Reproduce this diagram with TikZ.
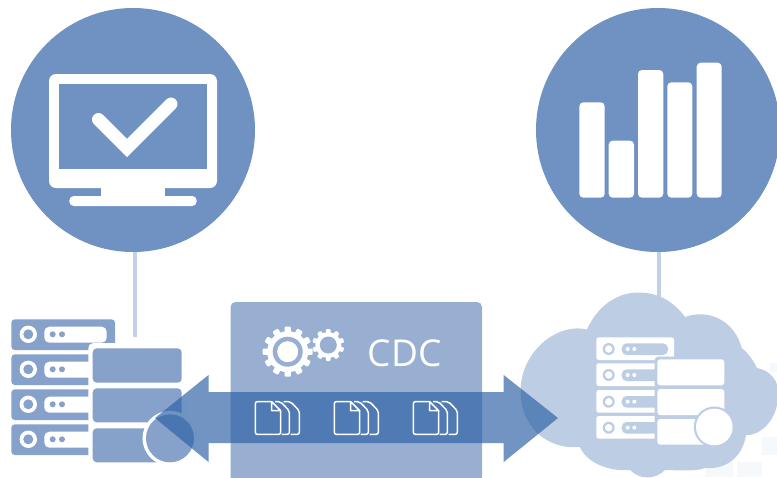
\documentclass[tikz,border=0pt]{standalone}
\usepackage{fontspec}
\setmainfont{Open Sans}
\definecolor{circ}{HTML}{6F92C3}
\definecolor{srv}{HTML}{86A1CA}
\definecolor{boxc}{HTML}{98AFD2}
\definecolor{arr}{RGB}{45,98,165}
\definecolor{cloudc}{HTML}{BDCEE4}
\definecolor{linec}{HTML}{C0D0E6}
\definecolor{pale}{HTML}{F6F9FC}
\tikzset{
  disc/.style={circle,fill=circ,inner sep=0pt,minimum size=244pt},
  conn/.style={draw=linec,line width=3.8pt},
  wbar/.style={fill=white,rounded corners=4pt},
  docline/.style={draw=white,line width=1.5pt,line join=round},
}
\newcommand{\gearshape}[6]{% cx cy teeth root outer halfwidth
  \fill[white] (#1,#2) circle[radius=#4];
  \pgfmathsetmacro{\gstep}{360/#3}
  \foreach \i in {1,...,#3}{
    \pgfmathsetmacro{\gang}{\i*\gstep}
    \fill[white,rotate around={\gang:(#1,#2)},rounded corners=1pt]
      ({#1-#6},#2) rectangle ({#1+#6},{#2-#5});
  }
}
\newcommand{\rowL}[1]{%
  \fill[srv,rounded corners=3.5pt] (11.3,#1) rectangle +(103.7,30.7);
  \fill[white,rounded corners=5pt] (44.3,#1+7.4) rectangle +(62.4,16);
  \fill[white] (28.3,#1+15) circle[radius=8.7];
  \fill[srv] (28.3,#1+15) circle[radius=5];
  \fill[srv] (52.7,#1+15) circle[radius=3];
  \fill[srv] (62,#1+15) circle[radius=3];
}
\newcommand{\rowR}[1]{%
  \fill[white,rounded corners=2.5pt] (596.3,#1) rectangle +(77.7,22.7);
  \fill[cloudc,rounded corners=5pt] (621.7,#1+6) rectangle +(46.3,11.7);
  \fill[cloudc] (608.7,#1+11.7) circle[radius=6];
  \fill[white] (608.7,#1+11.7) circle[radius=3.7];
  \fill[white] (627.7,#1+11.7) circle[radius=2];
  \fill[white] (634.3,#1+11.7) circle[radius=2];
}
\newcommand{\docs}[1]{%
  \begin{scope}[xshift=#1pt]
  \draw[docline,rounded corners=2pt] (271.7,401.7) -- (255.3,401.7) -- (255.3,434.3) -- (280.7,434.3) -- (280.7,410.7);
  \draw[docline] (271.7,401.7) -- (280.7,410.7) -- (271.7,410.7) -- cycle;
  \draw[docline,rounded corners=2pt] (275,401.7) -- (280.5,401.7) -- (289.3,410.7) -- (289.3,434.3) -- (281.5,434.3);
  \draw[docline,rounded corners=2pt] (283.5,401.7) -- (290.5,401.7) -- (299.3,410.7) -- (299.3,434.3) -- (290.5,434.3);
  \end{scope}
}
\begin{document}
\begin{tikzpicture}[x=1pt,y=-1pt]
\useasboundingbox (0,0) rectangle (777,477);
\begin{scope}
\clip (0,0) rectangle (777,477);
% pale background squares
\fill[pale] (705,462) rectangle (733,477);
\fill[pale] (737,462) rectangle (762,477);
\fill[pale] (762,437) rectangle (777,455);
\fill[pale] (770,363) rectangle (777,372);
% discs
\node[disc] (mon) at (133,130) {};
\node[disc] (rep) at (658,130) {};
\coordinate (la) at (135,337);
\coordinate (ra) at (659,300);
\draw[conn] (mon.south -| la) -- (la);
\draw[conn] (rep.south -| ra) -- (ra);
% monitor
\fill[white,rounded corners=7pt] (49,74) rectangle (217,188);
\fill[circ] (59.3,84) rectangle (206.7,169.3);
\fill[white] (101,185) rectangle (165,198);
\fill[white,rounded corners=4.5pt] (69.3,196) rectangle (196.7,206);
\draw[white,line width=13pt,line cap=round,line join=miter] (98.5,119.5) -- (127,148) -- (171,104);
% bars
\fill[wbar] (579.3,102.3) rectangle (604.7,197.7);
\fill[wbar] (608.7,140.7) rectangle (634,197.7);
\fill[wbar] (638,70) rectangle (663.3,197.7);
\fill[wbar] (667.3,82.3) rectangle (692.3,197.7);
\fill[wbar] (696.7,62.7) rectangle (721.7,197.7);
% left servers
\rowL{319.3}\rowL{354.3}\rowL{389.3}\rowL{424.3}
\fill[white,rounded corners=5pt] (88.3,343) rectangle (186,467);
\fill[srv,rounded corners=4pt] (92.7,348.3) rectangle (181.7,382.7);
\fill[srv,rounded corners=4pt] (92.7,388.3) rectangle (181.7,422.3);
\fill[srv,rounded corners=4pt] (92.7,428.3) rectangle (181.7,462.3);
\fill[white] (170,438.3) circle[radius=27.5];
\fill[srv] (170,438.3) circle[radius=24];
% cloud
\fill[cloudc] (520.7,395)
  .. controls (518,355) and (555,322) .. (587,329.5)
  .. controls (598,305) and (618,292) .. (640,292.5)
  .. controls (660,293) and (675,303) .. (685,317)
  .. controls (710,308) and (735,322) .. (741.7,348)
  .. controls (749,354) and (753,360) .. (757,368)
  .. controls (770,370) and (780,382) .. (778,395)
  .. controls (778,420) and (760,436) .. (746,435)
  .. controls (743,455) and (728,470) .. (705,468)
  .. controls (695,472) and (675,470) .. (665,470)
  .. controls (655,480) and (640,480) .. (630,470)
  .. controls (605,472) and (585,460) .. (580,447)
  .. controls (545,450) and (522,425) .. (520.7,395) -- cycle;
\rowR{337.3}\rowR{363.3}\rowR{390}\rowR{416}
\fill[cloudc,rounded corners=4pt] (654.5,356.5) rectangle (727,447);
\fill[white,rounded corners=3pt] (657.3,359.3) rectangle (724.3,385.3);
\fill[white,rounded corners=3pt] (657.3,389) rectangle (724.3,415);
\fill[white,rounded corners=3pt] (657.3,419) rectangle (724.3,444.7);
\fill[cloudc] (714.3,427) circle[radius=20.5];
\fill[white] (714.3,427) circle[radius=18.3];
% CDC box
\fill[boxc,rounded corners=5pt] (230.5,302) rectangle (482,482);
% double arrow
\fill[arr,fill opacity=0.68] (155,418) -- (208.5,375) -- (208.5,392) -- (503.7,392) -- (503.7,375) -- (558,418) -- (503.7,462) -- (503.7,443) -- (208.5,443) -- (208.5,462) -- cycle;
% gears
\gearshape{287.7}{351.7}{12}{20.5}{25}{3.2}
\fill[boxc] (287.7,351.7) circle[radius=15];
\fill[white] (287.7,351.7) circle[radius=10.5];
\gearshape{328.3}{345}{10}{13}{16}{2.4}
\fill[boxc] (328.3,345) circle[radius=8.5];
\node[text=white,font=\fontsize{37}{37}\selectfont,inner sep=0pt] (cdc) at (404.8,353) {CDC};
% documents
\docs{0}\docs{79}\docs{158}
\end{scope}
\end{tikzpicture}
\end{document}
